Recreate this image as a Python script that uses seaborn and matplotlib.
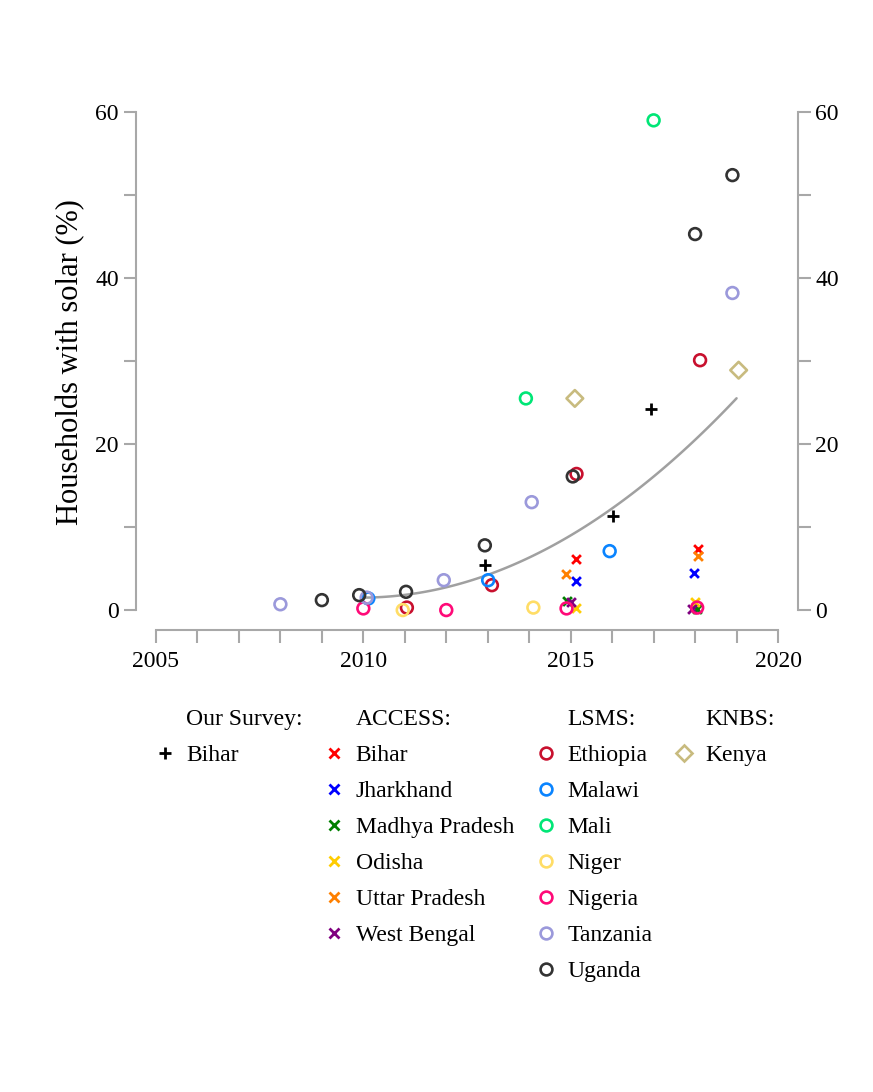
import matplotlib
matplotlib.use("Agg")
import matplotlib.pyplot as plt
from matplotlib.lines import Line2D
from matplotlib.ticker import MultipleLocator
import seaborn as sns

# ---------------- data ----------------
# Our survey (Bihar)
survey_bihar_year = [2012.93, 2016.03, 2016.93]
survey_bihar_pct = [5.4, 11.3, 24.2]

# ACCESS (Indian states)
access_bihar_year = [2015.12, 2018.08]
access_bihar_pct = [6.1, 7.4]
access_jharkhand_year = [2015.12, 2017.98]
access_jharkhand_pct = [3.5, 4.5]
access_mp_year = [2014.9, 2018.05]
access_mp_pct = [1.1, 0.1]
access_odisha_year = [2015.12, 2018.0]
access_odisha_pct = [0.2, 1.0]
access_up_year = [2014.89, 2018.06]
access_up_pct = [4.4, 6.5]
access_wb_year = [2015.01, 2017.93]
access_wb_pct = [1.0, 0.1]

# LSMS (African countries)
ethiopia_year = [2011.05, 2013.1, 2015.14, 2018.12]
ethiopia_pct = [0.3, 3.0, 16.4, 30.1]
malawi_year = [2010.12, 2013.01, 2015.94]
malawi_pct = [1.4, 3.6, 7.1]
mali_year = [2013.92, 2017.0]
mali_pct = [25.5, 59.0]
niger_year = [2010.95, 2014.1]
niger_pct = [0.0, 0.3]
nigeria_year = [2010.0, 2012.0, 2014.9, 2018.05]
nigeria_pct = [0.2, 0.0, 0.2, 0.3]
tanzania_year = [2008.0, 2010.08, 2011.94, 2014.06, 2018.9]
tanzania_pct = [0.7, 1.5, 3.6, 13.0, 38.2]
uganda_year = [2009.0, 2009.9, 2011.03, 2012.93, 2015.05, 2018.0, 2018.9]
uganda_pct = [1.2, 1.8, 2.2, 7.8, 16.1, 45.3, 52.4]

# KNBS (Kenya)
kenya_year = [2015.1, 2019.05]
kenya_pct = [25.5, 28.9]

# Trend curve values
trend_year = [2010, 2011, 2012, 2013, 2014, 2015, 2016, 2017, 2018, 2019]
trend_pct = [1.5, 1.85, 2.75, 4.2, 6.3, 9.0, 12.3, 16.1, 20.5, 25.5]

# Tick labels
x_major = [2005, 2010, 2015, 2020]
y_major = [0, 20, 40, 60]

# ---------------- styling ----------------
sns.set_theme(style="white")
plt.rcParams["font.family"] = ["Liberation Serif", "DejaVu Serif"]
plt.rcParams["text.color"] = "black"
plt.rcParams["axes.labelcolor"] = "black"
plt.rcParams["xtick.color"] = "black"
plt.rcParams["ytick.color"] = "black"

AXIS_GREY = "#a8a8a8"

fig = plt.figure(figsize=(8.73, 10.92), dpi=100)
ax = fig.add_axes([0.1668, 0.4322, 0.7363, 0.4728])

# smooth trend line
sns.regplot(x=trend_year, y=trend_pct, order=2, ci=None, scatter=False,
            truncate=True, ax=ax,
            line_kws=dict(color="#a0a0a0", lw=1.8, zorder=1))


def line_marker(xs, ys, color, marker, size):
    sns.scatterplot(x=xs, y=ys, marker=marker, s=size, color=color,
                    linewidth=2.0, ax=ax, legend=False, zorder=3)


def hollow_marker(xs, ys, color, marker, size):
    sns.scatterplot(x=xs, y=ys, marker=marker, s=size, color=color,
                    facecolor="none", edgecolor=color, linewidth=1.9,
                    ax=ax, legend=False, zorder=3)


survey = [("Bihar", survey_bihar_year, survey_bihar_pct, "black")]
access = [
    ("Bihar", access_bihar_year, access_bihar_pct, "#ff0000"),
    ("Jharkhand", access_jharkhand_year, access_jharkhand_pct, "#0000ff"),
    ("Madhya Pradesh", access_mp_year, access_mp_pct, "#008000"),
    ("Odisha", access_odisha_year, access_odisha_pct, "#ffcc00"),
    ("Uttar Pradesh", access_up_year, access_up_pct, "#ff8000"),
    ("West Bengal", access_wb_year, access_wb_pct, "#800080"),
]
lsms = [
    ("Ethiopia", ethiopia_year, ethiopia_pct, "#c8102e"),
    ("Malawi", malawi_year, malawi_pct, "#0a84ff"),
    ("Mali", mali_year, mali_pct, "#00e676"),
    ("Niger", niger_year, niger_pct, "#ffdd66"),
    ("Nigeria", nigeria_year, nigeria_pct, "#ff0a78"),
    ("Tanzania", tanzania_year, tanzania_pct, "#9b99db"),
    ("Uganda", uganda_year, uganda_pct, "#333333"),
]
knbs = [("Kenya", kenya_year, kenya_pct, "#c8bb7f")]

for _, xs, ys, c in survey:
    line_marker(xs, ys, c, "+", 80)
for _, xs, ys, c in access:
    line_marker(xs, ys, c, "x", 40)
for _, xs, ys, c in lsms:
    hollow_marker(xs, ys, c, "o", 72)
for _, xs, ys, c in knbs:
    hollow_marker(xs, ys, c, "D", 72)

# ---------------- axes ----------------
ax.set_xlim(2004.75, 2020.25)
ax.set_ylim(-1.2, 61)
ax.set_xticks(x_major)
ax.set_xticklabels([str(v) for v in x_major])
ax.set_yticks(y_major)
ax.set_yticklabels([str(v) for v in y_major])
ax.xaxis.set_minor_locator(MultipleLocator(1))
ax.yaxis.set_minor_locator(MultipleLocator(10))

ax.spines["top"].set_visible(False)
for side in ["left", "right", "bottom"]:
    sp = ax.spines[side]
    sp.set_visible(True)
    sp.set_position(("outward", 7.2))
    sp.set_color(AXIS_GREY)
    sp.set_linewidth(1.5)
ax.spines["left"].set_bounds(0, 60)
ax.spines["right"].set_bounds(0, 60)
ax.spines["bottom"].set_bounds(2005, 2020)

ax.tick_params(which="both", direction="out", length=9, width=1.5,
               color=AXIS_GREY, labelsize=17, labelcolor="black")
ax.tick_params(axis="y", which="both", left=True, right=True,
               labelleft=True, labelright=True, pad=3)
ax.tick_params(axis="x", which="both", bottom=True, top=False, pad=6)

ax.set_xlabel("")
ax.set_ylabel("Households with solar (%)", fontsize=22, labelpad=7,
              color="black")
ax.grid(False)

# ---------------- grouped legend ----------------
def blank():
    return Line2D([], [], linestyle="none", marker=None)


def entry(marker, color, ms, hollow=False):
    if hollow:
        return Line2D([], [], linestyle="none", marker=marker, markersize=ms,
                      markerfacecolor="none", markeredgecolor=color,
                      markeredgewidth=1.9)
    return Line2D([], [], linestyle="none", marker=marker, markersize=ms,
                  color=color, markeredgewidth=2.0)


handles, labels = [], []
columns = [
    ("Our Survey:", [(n, entry("+", c, 9)) for n, _, _, c in survey]),
    ("ACCESS:", [(n, entry("x", c, 6.5)) for n, _, _, c in access]),
    ("LSMS:", [(n, entry("o", c, 8.5, True)) for n, _, _, c in lsms]),
    ("KNBS:", [(n, entry("D", c, 8, True)) for n, _, _, c in knbs]),
]
n_rows = 8
for header, items in columns:
    handles.append(blank())
    labels.append(header)
    for name, h in items:
        handles.append(h)
        labels.append(name)
    for _ in range(n_rows - 1 - len(items)):
        handles.append(blank())
        labels.append("")

fig.legend(handles, labels, loc="upper left", bbox_to_anchor=(0.178, 0.3508),
           ncol=4, frameon=False, fontsize=17, handlelength=0.8,
           handletextpad=0.5, columnspacing=0.95, labelspacing=0.61,
           borderpad=0, borderaxespad=0, labelcolor="black")

fig.savefig("out.png", dpi=100)
